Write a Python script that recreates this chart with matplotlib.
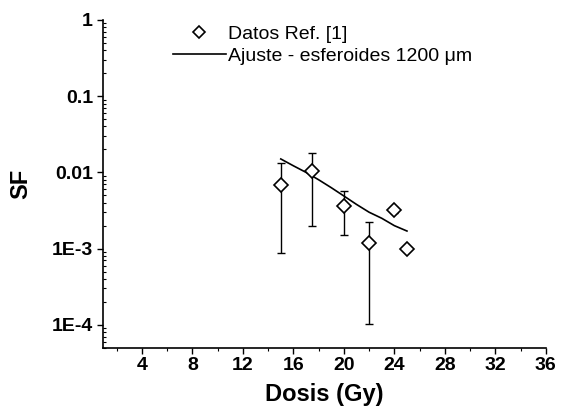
import numpy as np
import matplotlib.pyplot as plt
from matplotlib.ticker import FixedLocator, FixedFormatter, LogLocator, MultipleLocator, NullFormatter

plt.rcParams['font.family'] = ['Liberation Sans', 'DejaVu Sans']

# datos de referencia [1]
dosis = [15, 17.5, 20, 22, 24, 25]
sf = [0.00686, 0.0103, 0.00363, 0.00117, 0.0032, 0.00098]
sf_sup = [0.0131, 0.018, 0.00566, 0.00226, 0.0035, 0.00098]
sf_inf = [0.00088, 0.00197, 0.00149, 0.000101, 0.0029, 0.00098]

# ajuste esferoides 1200 um
dosis_fit = [15, 16, 17, 18, 19, 20, 21, 22, 23, 24, 25]
sf_fit = [0.0150, 0.0122, 0.0100, 0.0080, 0.0063, 0.0049, 0.0038, 0.0030, 0.0025, 0.0020, 0.0017]

yticks = [1e-4, 1e-3, 1e-2, 1e-1, 1]
ylabels = ["1E-4", "1E-3", "0.01", "0.1", "1"]

sf = np.array(sf)
yerr = [sf - np.array(sf_inf), np.array(sf_sup) - sf]

fig = plt.figure(figsize=(5.65, 4.15), dpi=100)
ax = fig.add_axes([0.182, 0.162, 0.784, 0.79])

ax.errorbar(dosis, sf, yerr=yerr, fmt='none', ecolor='black', elinewidth=1.0,
            capsize=3, capthick=1.0, zorder=2)
ax.plot(dosis, sf, 'D', ms=7, mfc='white', mec='black', mew=1.2, zorder=3,
        label='Datos Ref. [1]')
ax.plot(dosis_fit, sf_fit, '-', color='black', lw=1.2, zorder=2,
        label='Ajuste - esferoides 1200 μm')

ax.set_yscale('log')
ax.set_xlim(0.9, 36)
ax.set_ylim(5e-5, 1)

ax.set_xticks([4, 8, 12, 16, 20, 24, 28, 32, 36])
ax.xaxis.set_minor_locator(MultipleLocator(2))

ax.yaxis.set_major_locator(FixedLocator(yticks))
ax.yaxis.set_major_formatter(FixedFormatter(ylabels))
ax.yaxis.set_minor_locator(LogLocator(base=10, subs=np.arange(2, 10)))
ax.yaxis.set_minor_formatter(NullFormatter())

for s in ['top', 'right']:
    ax.spines[s].set_visible(False)
for s in ['left', 'bottom']:
    ax.spines[s].set_linewidth(1.2)

ax.tick_params(axis='both', which='major', direction='out', length=4, width=1.0,
               labelsize=14, pad=3)
ax.tick_params(axis='y', which='minor', direction='in', length=2.5, width=0.8)
ax.tick_params(axis='x', which='minor', direction='out', length=2.5, width=0.8)
for lab in ax.get_xticklabels() + ax.get_yticklabels():
    lab.set_fontweight('bold')

ax.set_xlabel('Dosis (Gy)', fontsize=17, fontweight='bold', labelpad=6)
ax.set_ylabel('SF', fontsize=17, fontweight='bold', labelpad=14)

ax.legend(loc='upper left', bbox_to_anchor=(0.119, 1.036), frameon=False,
          fontsize=14, handlelength=2.7, handletextpad=0.15, labelspacing=0.22,
          markerscale=0.85)

fig.savefig('out.png', dpi=100)
